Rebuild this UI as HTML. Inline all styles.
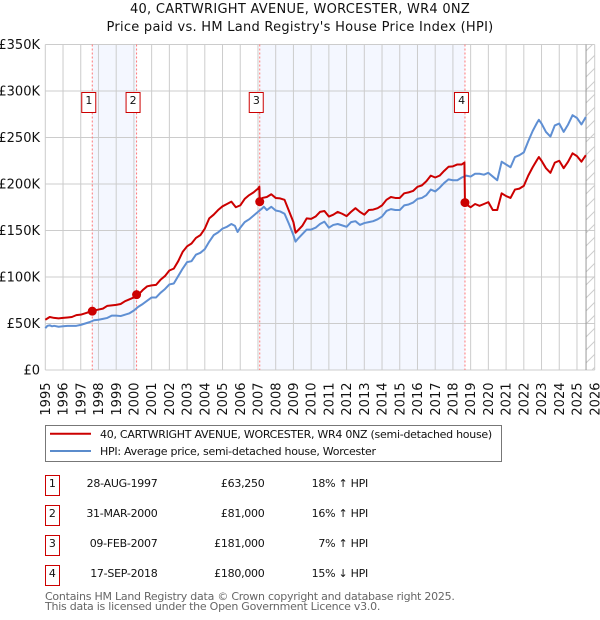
<!DOCTYPE html>
<html lang="en">
<head>
<meta charset="utf-8">
<title>40, Cartwright Avenue, Worcester price chart</title>
<style>
html,body{margin:0;padding:0;background:#fff;width:600px;height:620px;overflow:hidden}
svg{display:block}
text{font-family:"DejaVu Sans","Liberation Sans",sans-serif;fill:#111}
</style>
</head>
<body>
<svg id="chart" xmlns="http://www.w3.org/2000/svg" width="600" height="620" viewBox="0 0 600 620">
  <defs>
    <pattern id="hatch" patternUnits="userSpaceOnUse" width="13" height="13">
      <line x1="0" y1="13" x2="13" y2="0" stroke="#ccc" stroke-width="1"></line>
    </pattern>
  </defs>
  <text x="300" y="13" text-anchor="middle" font-size="13" letter-spacing="0.27">40, CARTWRIGHT AVENUE, WORCESTER, WR4 0NZ</text>
  <text x="300" y="31" text-anchor="middle" font-size="13" letter-spacing="0.27">Price paid vs. HM Land Registry's House Price Index (HPI)</text>
  <g id="bands"></g>
  <g id="grid"></g>
  <g id="hatching"></g>
  <g id="sale-lines"></g>
  <g id="series"></g>
  <g id="markers"></g>
  <g id="y-axis"></g>
  <g id="x-axis"></g>

  <g>
    <rect x="45.5" y="425.5" width="456" height="36" fill="#fff" stroke="#777" stroke-width="1"></rect>
    <line x1="50" y1="433.8" x2="91" y2="433.8" stroke="#c00" stroke-width="2"></line>
    <text x="100" y="438" font-size="11" letter-spacing="-0.27">40, CARTWRIGHT AVENUE, WORCESTER, WR4 0NZ (semi-detached house)</text>
    <line x1="50" y1="451" x2="91" y2="451" stroke="#5b8ccc" stroke-width="2"></line>
    <text x="100" y="455" font-size="11" letter-spacing="-0.27">HPI: Average price, semi-detached house, Worcester</text>
  </g>

  <g font-size="11" letter-spacing="-0.27">
    <g>
      <rect x="45.5" y="475.5" width="14" height="20" fill="#fff" stroke="#c00" stroke-width="1"></rect>
      <text x="52.3" y="487" text-anchor="middle">1</text>
      <text x="157.5" y="487" text-anchor="end">28-AUG-1997</text>
      <text x="264.5" y="487" text-anchor="end">£63,250</text>
      <text x="368" y="487" text-anchor="end">18% ↑ HPI</text>
    </g>
    <g>
      <rect x="45.5" y="505.5" width="14" height="20" fill="#fff" stroke="#c00" stroke-width="1"></rect>
      <text x="52.3" y="517" text-anchor="middle">2</text>
      <text x="157.5" y="517" text-anchor="end">31-MAR-2000</text>
      <text x="264.5" y="517" text-anchor="end">£81,000</text>
      <text x="368" y="517" text-anchor="end">16% ↑ HPI</text>
    </g>
    <g>
      <rect x="45.5" y="535.5" width="14" height="20" fill="#fff" stroke="#c00" stroke-width="1"></rect>
      <text x="52.3" y="547" text-anchor="middle">3</text>
      <text x="157.5" y="547" text-anchor="end">09-FEB-2007</text>
      <text x="264.5" y="547" text-anchor="end">£181,000</text>
      <text x="368" y="547" text-anchor="end">7% ↑ HPI</text>
    </g>
    <g>
      <rect x="45.5" y="565.5" width="14" height="20" fill="#fff" stroke="#c00" stroke-width="1"></rect>
      <text x="52.3" y="577" text-anchor="middle">4</text>
      <text x="157.5" y="577" text-anchor="end">17-SEP-2018</text>
      <text x="264.5" y="577" text-anchor="end">£180,000</text>
      <text x="368" y="577" text-anchor="end">15% ↓ HPI</text>
    </g>
  </g>

  <text x="45" y="600" font-size="11" letter-spacing="-0.25" style="fill:#666">Contains HM Land Registry data © Crown copyright and database right 2025.</text>
  <text x="45" y="610" font-size="11" letter-spacing="-0.25" style="fill:#666">This data is licensed under the Open Government Licence v3.0.</text>
</svg>

<script>
const yearLabels = ["1995","1996","1997","1998","1999","2000","2001","2002","2003","2004","2005","2006","2007","2008","2009","2010","2011","2012","2013","2014","2015","2016","2017","2018","2019","2020","2021","2022","2023","2024","2025","2026"];
const priceTicks = [0,50,100,150,200,250,300,350];
const priceTickLabels = ["£0","£50K","£100K","£150K","£200K","£250K","£300K","£350K"];

const hpiDates = [
1995,1995.12,1995.25,1995.38,1995.5,1995.75,
1996,1996.25,1996.5,1996.75,
1997,1997.25,1997.5,1997.75,
1998,1998.25,1998.5,1998.75,
1999,1999.25,1999.5,1999.75,
2000,2000.25,2000.5,2000.75,
2001,2001.25,2001.5,2001.75,
2002,2002.25,2002.5,2002.75,
2003,2003.25,2003.5,2003.75,
2004,2004.25,2004.5,2004.75,
2005,2005.25,2005.5,2005.7,2005.85,
2006,2006.25,2006.5,2006.75,
2007,2007.25,2007.33,2007.5,2007.75,
2008,2008.25,2008.5,2008.75,
2009,2009.12,2009.25,2009.5,2009.75,
2010,2010.25,2010.5,2010.75,
2011,2011.25,2011.5,2011.75,
2012,2012.25,2012.5,2012.75,
2013,2013.25,2013.5,2013.75,
2014,2014.25,2014.5,2014.75,
2015,2015.25,2015.5,2015.75,
2016,2016.25,2016.5,2016.75,
2017,2017.25,2017.5,2017.75,
2018,2018.25,2018.5,2018.75,
2019,2019.25,2019.5,2019.75,
2020,2020.25,2020.5,2020.75,
2021,2021.25,2021.5,2021.75,
2022,2022.25,2022.5,2022.75,2022.85,
2023,2023.25,2023.5,2023.75,
2024,2024.25,2024.5,2024.75,
2025,2025.25,2025.5
];
const hpiValues = [
45,47.5,48,47,47.5,46.5,
47,47.5,47.5,47.5,
48.5,50,51.5,53.5,
54,55,56,58.5,
58.5,58,59.5,61,
64,68,71,74.5,
78,78,83,87,
92,93,101,109,
116,117,124,126,
130,138,145,148,
152,154,157,155,148.4,
153,159,162,166,
170,174,175.6,172,175.5,
171.5,170.5,168,157,
145,138,141,146,151,
151,153,157,159.5,
153,156,157,155.5,
154,159,160,156,
158,159,160,162,
165,171,173,172,
172,177,178,180,
184,185,188,194,
192,196,201,205,
204,204,207,209,
208,211,211,210,
212,208,204,224,
221,218,229,231,
234,246,257,266,269,
265,256,251,263,
265,256,264,274,
271,264,272
];

const paidDates = [
1995,1995.25,1995.5,1995.75,
1996,1996.25,1996.5,1996.75,
1997,1997.25,1997.5,1997.75,
1998,1998.25,1998.5,1998.75,
1999,1999.25,1999.5,1999.75,
2000,2000.25,2000.5,2000.75,
2001,2001.25,2001.5,2001.75,
2002,2002.25,2002.5,2002.75,
2003,2003.25,2003.5,2003.75,
2004,2004.25,2004.5,2004.75,
2005,2005.25,2005.5,2005.75,
2006,2006.25,2006.5,2006.75,
2007,2007.08,2007.1,2007.25,2007.5,2007.75,
2008,2008.25,2008.5,2008.75,
2009,2009.12,2009.25,2009.5,2009.75,
2010,2010.25,2010.5,2010.75,
2011,2011.25,2011.5,2011.75,
2012,2012.25,2012.5,2012.75,
2013,2013.25,2013.5,2013.75,
2014,2014.25,2014.5,2014.75,
2015,2015.25,2015.5,2015.75,
2016,2016.25,2016.5,2016.75,
2017,2017.25,2017.5,2017.75,
2018,2018.25,2018.5,2018.65,2018.68,2018.75,
2019,2019.25,2019.5,2019.75,
2020,2020.25,2020.5,2020.75,
2021,2021.25,2021.5,2021.75,
2022,2022.25,2022.5,2022.75,2022.85,
2023,2023.25,2023.5,2023.75,
2024,2024.25,2024.5,2024.75,
2025,2025.25,2025.5
];
const paidValues = [
54,57,56,55.5,
56,56.5,57,59,
59.5,61,62.5,64,
65,66,69,69.5,
70,71,74,76,
78,81,86,90,
91,91.5,97,101,
107,109,117,127,
133,136,142,145,
152,163,167,172,
176,178.5,181,175,
177,184,188,191,
195,197,181,185,186,189,
185,184.5,183,171,
159,147.6,150,155,163,
162.5,165,170,171,
165,167,170,168,
165.5,170,174,170,
167,172,172.5,174,
177,183,186,185,
185,190,191,192.5,
197,198.5,203,209,
207,209,214,218.5,
219,221,221,223,180,178,
175,178.5,176.5,178.5,
180.5,172,172,190,
187,185,194,195,
198,209,218,226,229,
225,217,212,223,
225,217,224,233,
230,224,231
];

const saleDates = [1997.65,2000.15,2007.1,2018.68];
const salePrices = [63.25,81,181,180];
const saleNumbers = ["1","2","3","4"];
const dataEndDate = 2025.5;

const NS = "http://www.w3.org/2000/svg";
const plotLeft = 45.3, plotRight = 594.7, plotTop = 44.5, plotBottom = 370;
const xStart = 1995, xEnd = 2026, yMax = 350;

function xScale(year){ return plotLeft + (year - xStart) / (xEnd - xStart) * (plotRight - plotLeft); }
function yScale(value){ return plotBottom - value / yMax * (plotBottom - plotTop); }
function make(tag, attrs, parent){
  const el = document.createElementNS(NS, tag);
  for (const k in attrs) el.setAttribute(k, attrs[k]);
  parent.appendChild(el);
  return el;
}
function pathFrom(dates, values){
  return dates.map(function(d, i){ return (i ? "L" : "M") + xScale(d).toFixed(2) + " " + yScale(values[i]).toFixed(2); }).join("");
}

const bands = document.getElementById("bands");
for (let i = 0; i < saleDates.length; i += 2) {
  const band = make("rect", {x: xScale(saleDates[i]), y: plotTop, width: xScale(saleDates[i + 1]) - xScale(saleDates[i]), height: plotBottom - plotTop, fill: "#f4f7ff"}, bands);
  
  
}

const grid = document.getElementById("grid");
const yAxis = document.getElementById("y-axis");
priceTicks.forEach(function(t, i){
  const line = make("line", {x1: plotLeft, x2: plotRight, y1: yScale(t), y2: yScale(t), stroke: "#ccc", "stroke-width": 1}, grid);
  
  
  const label = make("text", {x: 40, y: yScale(t) + 4.5, "text-anchor": "end", "font-size": 13}, yAxis);
  
  
  label.textContent = priceTickLabels[i];
});

const xAxis = document.getElementById("x-axis");
yearLabels.forEach(function(lbl){
  const px = xScale(Number(lbl));
  const line = make("line", {x1: px, x2: px, y1: plotTop, y2: plotBottom, stroke: "#ccc", "stroke-width": 1}, grid);
  
  
  const label = make("text", {x: 0, y: 0, "text-anchor": "end", "font-size": 13, transform: "translate(" + (px + 4.6) + " 382.5) rotate(-90)"}, xAxis);
  
  
  label.textContent = lbl;
});

const hatching = document.getElementById("hatching");
const hatchX = xScale(dataEndDate) + 0.2;
const hatchRect = make("rect", {x: hatchX, y: plotTop, width: plotRight - hatchX, height: plotBottom - plotTop, fill: "url(#hatch)"}, hatching);


const hatchEdge = make("line", {x1: hatchX, x2: hatchX, y1: plotTop, y2: plotBottom, stroke: "#999", "stroke-width": 1}, hatching);



const saleLines = document.getElementById("sale-lines");
saleDates.forEach(function(d){
  const line = make("line", {x1: xScale(d), x2: xScale(d), y1: plotTop, y2: plotBottom, stroke: "#f77", "stroke-width": 1, "stroke-dasharray": "2 2"}, saleLines);
  
  
});

const series = document.getElementById("series");
const hpiLine = make("path", {d: pathFrom(hpiDates, hpiValues), fill: "none", stroke: "#5f8fd3", "stroke-width": 2, "stroke-linejoin": "round"}, series);


const paidLine = make("path", {d: pathFrom(paidDates, paidValues), fill: "none", stroke: "#c00", "stroke-width": 2, "stroke-linejoin": "round"}, series);



const markers = document.getElementById("markers");
saleDates.forEach(function(d, i){
  const dot = make("circle", {cx: xScale(d), cy: yScale(salePrices[i]), r: 4.5, fill: "#c00"}, markers);
  
  
  const badge = make("rect", {x: xScale(d) - 10.5, y: 92.5, width: 14, height: 20, fill: "#fff", stroke: "#c00", "stroke-width": 1}, markers);
  
  
  const num = make("text", {x: xScale(d) - 3.4, y: 104, "text-anchor": "middle", "font-size": 11}, markers);
  
  
  num.textContent = saleNumbers[i];
});
</script>
</body>
</html>
